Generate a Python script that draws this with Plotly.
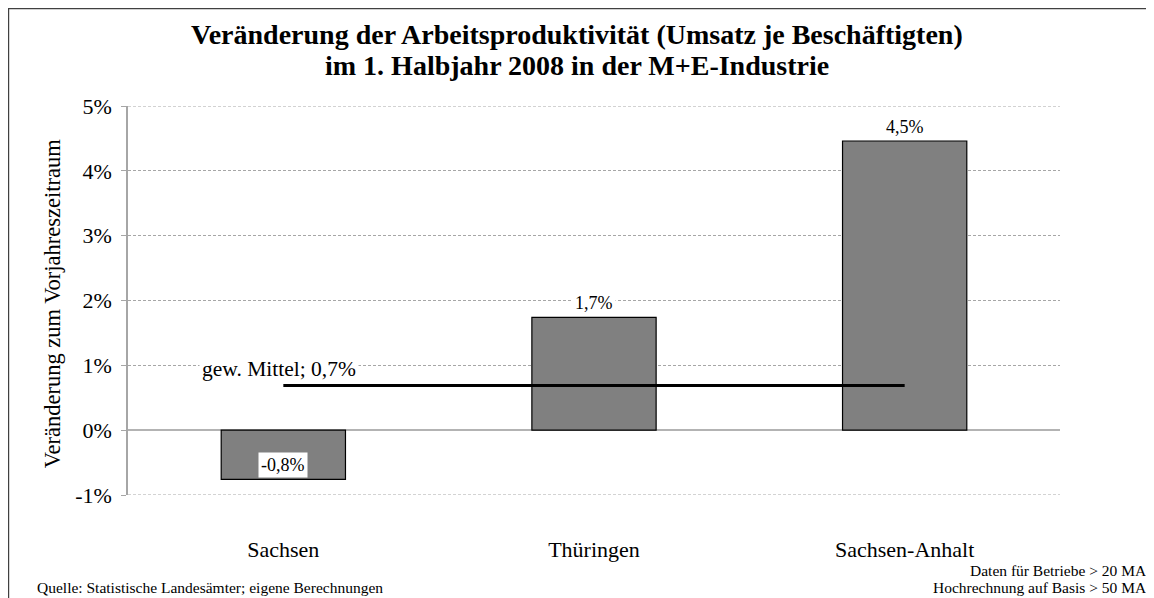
import plotly.graph_objects as go

categories = ["Sachsen", "Thüringen", "Sachsen-Anhalt"]
values = [-0.76, 1.74, 4.46]
mean_value = 0.69
mean_label = "gew. Mittel"
y_ticks = [-1, 0, 1, 2, 3, 4, 5]
y_ticklabels = ["-1%", "0%", "1%", "2%", "3%", "4%", "5%"]
title_lines = [
    "Veränderung der Arbeitsproduktivität (Umsatz je Beschäftigten)",
    "im 1. Halbjahr 2008 in der M+E-Industrie",
]
y_title = "Veränderung zum Vorjahreszeitraum"
source_text = "Quelle: Statistische Landesämter; eigene Berechnungen"
note_lines = ["Daten für Betriebe > 20 MA", "Hochrechnung auf Basis > 50 MA"]

FONT = "Liberation Serif, Times New Roman, serif"
GRID = "#a6a6a6"

def fmt(v):
    return f"{v:.1f}".replace(".", ",") + "%"

fig = go.Figure()
fig.add_trace(go.Bar(
    x=categories, y=values,
    marker=dict(color="#808080", line=dict(color="#000000", width=1.2)),
    width=0.4, hoverinfo="skip", showlegend=False,
))
fig.add_trace(go.Scatter(
    x=[categories[0], categories[-1]], y=[mean_value, mean_value],
    mode="lines", line=dict(color="#000000", width=3),
    hoverinfo="skip", showlegend=False,
))

annotations = []
for c, v in zip(categories, values):
    annotations.append(dict(
        x=c, y=v, xref="x", yref="y", text=fmt(v), showarrow=False,
        yshift=14, bgcolor="white", font=dict(family=FONT, size=18, color="#000"),
        borderpad=2,
    ))
annotations.append(dict(
    x=categories[0], y=mean_value, xref="x", yref="y",
    text=f"{mean_label}; {fmt(mean_value)}", showarrow=False,
    yshift=16, xshift=-4, bgcolor="white",
    font=dict(family=FONT, size=21.5, color="#000"), borderpad=2,
))
# title lines
annotations.append(dict(
    x=0.4817, y=1.1845, xref="paper", yref="paper", yanchor="middle",
    text=f"<b>{title_lines[0]}</b>", showarrow=False,
    font=dict(family=FONT, size=28, color="#000"),
))
annotations.append(dict(
    x=0.4817, y=1.1035, xref="paper", yref="paper", yanchor="middle",
    text=f"<b>{title_lines[1]}</b>", showarrow=False,
    font=dict(family=FONT, size=28, color="#000"),
))
# y-axis title
annotations.append(dict(
    x=-0.097, y=0.493, xref="paper", yref="paper",
    text=y_title, textangle=-90, showarrow=False,
    font=dict(family=FONT, size=22.5, color="#000"),
))
# footnotes
annotations.append(dict(
    x=-0.1, y=-0.237, xref="paper", yref="paper", xanchor="left", yanchor="middle",
    text=source_text, showarrow=False,
    font=dict(family=FONT, size=15.5, color="#000"),
))
annotations.append(dict(
    x=1.0953, y=-0.195, xref="paper", yref="paper", xanchor="right", yanchor="middle",
    text=note_lines[0], showarrow=False,
    font=dict(family=FONT, size=15.5, color="#000"),
))
annotations.append(dict(
    x=1.0953, y=-0.239, xref="paper", yref="paper", xanchor="right", yanchor="middle",
    text=note_lines[1], showarrow=False,
    font=dict(family=FONT, size=15.5, color="#000"),
))

shapes = [dict(
    type="rect", xref="paper", yref="paper",
    x0=-0.1281, x1=1.0982, y0=-0.3, y1=1.2505,
    line=dict(color="#404040", width=1.2), layer="above",
)]
# edge gridlines (top and bottom of the value range)
for yv in (y_ticks[0], y_ticks[-1]):
    shapes.append(dict(
        type="line", xref="paper", yref="y", x0=0, x1=1, y0=yv, y1=yv,
        line=dict(color=GRID, width=1, dash="3px,2px"), layer="below",
    ))

fig.update_layout(
    width=1146, height=590,
    margin=dict(l=120, r=94, t=98, b=103, autoexpand=False),
    paper_bgcolor="white", plot_bgcolor="white",
    font=dict(family=FONT, color="#000"),
    annotations=annotations,
    shapes=shapes,
    xaxis=dict(
        type="category", range=[-0.5, 2.5], showgrid=False, showline=False,
        ticks="", tickfont=dict(family=FONT, size=22, color="#000"),
        ticklabelstandoff=39, zeroline=False,
    ),
    yaxis=dict(
        range=[-1, 5], tickvals=y_ticks, ticktext=y_ticklabels,
        tickfont=dict(family=FONT, size=22, color="#000"),
        showgrid=True, gridcolor=GRID, griddash="3px,2px", gridwidth=1,
        zeroline=True, zerolinecolor="#b3b3b3", zerolinewidth=2,
        showline=True, linecolor=GRID, linewidth=1.5,
        ticks="outside", ticklen=5, tickcolor=GRID,
        ticklabelstandoff=5,
    ),
)

fig.write_html("out.html")
